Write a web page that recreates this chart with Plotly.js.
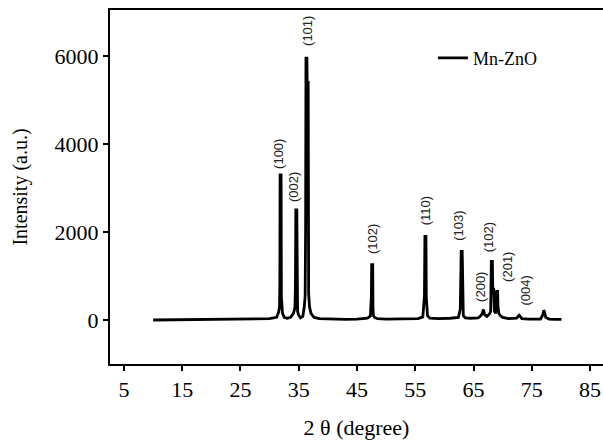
<!DOCTYPE html>
<html>
<head>
<meta charset="utf-8">
<script src="https://cdn.plot.ly/plotly-3.0.1.min.js"></script>
<style>
html,body{margin:0;padding:0;background:#fff;}
#chart{width:603px;height:440px;}
</style>
</head>
<body>
<div id="chart"></div>
<script>
// 2θ (degree) values of the Mn-ZnO XRD pattern
var twoTheta = [10, 15, 20, 25, 28, 30, 31.2, 31.55, 31.7, 31.76, 31.8, 31.97, 32.02, 32.07, 32.2, 32.5,
  33.0, 33.6, 34.1, 34.35, 34.43, 34.5, 34.67, 34.72, 34.8, 34.95, 35.3, 35.7, 35.95, 36.1, 36.18,
  36.24, 36.4, 36.45, 36.62, 36.7, 36.85, 37.1, 37.6, 38.5, 40, 43, 45, 46.8, 47.3, 47.46, 47.52,
  47.7, 47.74, 47.82, 48.0, 48.5, 50, 53, 55.5, 56.3, 56.58, 56.66, 56.84, 56.89, 56.97, 57.1, 57.5,
  59, 61, 62.4, 62.73, 62.83, 62.89, 63.06, 63.12, 63.25, 63.6, 64.5, 65.8, 66.2, 66.5, 66.7, 66.9,
  67.3, 67.8, 67.95, 68.06, 68.24, 68.3, 68.45, 68.6, 68.8, 68.96, 69.14, 69.2, 69.35, 69.6, 70.0, 71,
  72.4, 72.85, 73.3, 74.5, 76.5, 76.9, 77.05, 77.15, 77.4, 78, 79, 80.1];
// Intensity (a.u.)
var intensity = [0, 5, 10, 15, 20, 30, 60, 180, 300, 850, 3300, 3300, 480, 450, 160, 60,
  40, 60, 150, 280, 760, 2500, 2500, 480, 200, 120, 50, 80, 300, 550, 2130,
  5950, 5950, 5400, 5400, 600, 300, 150, 60, 30, 20, 15, 20, 40, 90, 510, 1260,
  1260, 300, 100, 60, 30, 20, 20, 30, 70, 540, 1900, 1900, 540, 240, 100, 40,
  30, 40, 60, 240, 1110, 1560, 1560, 240, 100, 50, 40, 50, 90, 150, 240, 120,
  80, 150, 200, 1330, 1330, 700, 700, 200, 150, 650, 650, 300, 150, 100, 60, 30,
  40, 110, 30, 20, 20, 120, 216, 200, 60, 20, 15, 15];

// Peak (hkl) labels
var peakLabels = ["(100)", "(002)", "(101)", "(102)", "(110)", "(103)", "(200)", "(102)", "(201)", "(004)"];
var peakLabelX = [31.6, 34.1, 36.5, 47.66, 56.8, 62.4, 66.1, 67.55, 70.7, 73.9];
var peakLabelY = [3773, 3011, 6580, 1852, 2488, 2148, 750, 1886, 1200, 677];

var xTicks = [5, 15, 25, 35, 45, 55, 65, 75, 85];
var yTicks = [0, 2000, 4000, 6000];

var serif = "'Liberation Serif', 'Times New Roman', Times, serif";

var annotations = peakLabels.map(function (t, i) {
  return {
    x: peakLabelX[i], y: peakLabelY[i], xref: "x", yref: "y",
    text: t, showarrow: false, textangle: -90,
    font: {family: "'Liberation Sans', Arial, sans-serif", size: 13, color: "#222"}
  };
});

var trace = {
  x: twoTheta, y: intensity, type: "scatter", mode: "lines", name: "Mn-ZnO",
  line: {color: "#000", width: 2.8}
};

var layout = {
  width: 603, height: 440,
  margin: {l: 110, r: 0, t: 10, b: 76},
  paper_bgcolor: "#fff", plot_bgcolor: "#fff",
  font: {family: serif, color: "#000"},
  showlegend: true,
  legend: {x: 0.655, y: 0.864, xanchor: "left", yanchor: "middle",
    font: {family: serif, size: 18, color: "#000"}, bgcolor: "rgba(0,0,0,0)"},
  xaxis: {
    range: [2.6, 87.23], tickvals: xTicks, ticktext: xTicks.map(String),
    showline: true, mirror: true, linecolor: "#000", linewidth: 2,
    ticks: "outside", ticklen: 5, tickwidth: 2, tickcolor: "#000",
    showgrid: false, zeroline: false,
    tickfont: {family: serif, size: 22, color: "#000"},
    title: {text: "2 θ (degree)", standoff: 18, font: {family: serif, size: 22, color: "#000"}}
  },
  yaxis: {
    range: [-1000, 7045], tickvals: yTicks, ticktext: yTicks.map(String),
    showline: true, linecolor: "#000", linewidth: 2,
    ticks: "outside", ticklen: 5, tickwidth: 2, tickcolor: "#000",
    showgrid: false, zeroline: false,
    tickfont: {family: serif, size: 22, color: "#000"},
    title: {text: "Intensity (a.u.)", standoff: 22, font: {family: serif, size: 20, color: "#000"}}
  },
  annotations: annotations
};

Plotly.newPlot("chart", [trace], layout, {staticPlot: true, displayModeBar: false});
</script>
</body>
</html>
